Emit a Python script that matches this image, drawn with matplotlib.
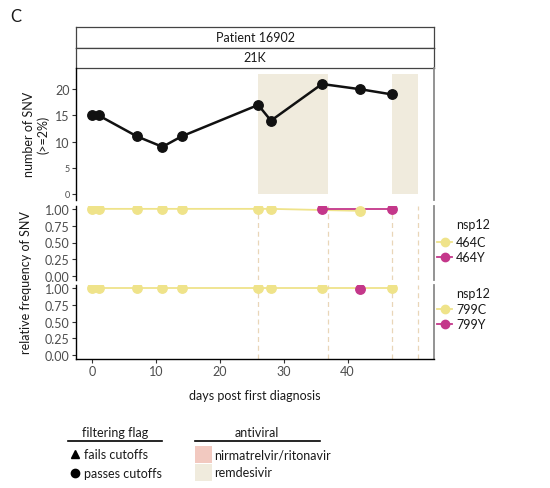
import matplotlib
matplotlib.use("Agg")
import matplotlib.pyplot as plt
from matplotlib.lines import Line2D
from matplotlib.patches import Rectangle

plt.rcParams['font.family'] = ['Lato', 'DejaVu Sans']

# ---------------- data ----------------
days = [0, 1, 7, 11, 14, 26, 28, 36, 42, 47]
n_snv = [15, 15, 11, 9, 11, 17, 14, 21, 20, 19]

days_464C = [0, 1, 7, 11, 14, 26, 28, 42]
freq_464C = [1.0, 1.0, 1.0, 1.0, 1.0, 1.0, 1.0, 0.97]
days_464Y = [36, 47]
freq_464Y = [1.0, 1.0]

days_799C = [0, 1, 7, 11, 14, 26, 28, 36, 47]
freq_799C = [1.0, 1.0, 1.0, 1.0, 1.0, 1.0, 1.0, 1.0, 1.0]
days_799Y = [42]
freq_799Y = [0.98]

remdesivir_start = [26, 47]
remdesivir_end = [37, 51]

x_ticks = [0, 10, 20, 30, 40]
top_yticks = [0, 5, 10, 15, 20]
freq_yticks = [0.0, 0.25, 0.5, 0.75, 1.0]

# ---------------- style ----------------
W, H = 550, 489
YELLOW = '#EFE38A'
MAGENTA = '#C4378A'
BEIGE = '#F0EBDD'
PINK = '#F2C9C0'
DASH = '#E9D6B8'
TXT = '#4D4D4D'
FS = 9

fig = plt.figure(figsize=(W / 100, H / 100), dpi=100)


def ax_px(x0, y0, x1, y1):
    return fig.add_axes([x0 / W, 1 - y1 / H, (x1 - x0) / W, (y1 - y0) / H])


def fx(x):
    return x / W


def fy(y):
    return 1 - y / H


XL, XR = 76, 434
xlim = (-2.55, 53.55)


def style(ax, bottom=False):
    ax.spines['top'].set_visible(False)
    ax.spines['bottom'].set_visible(bottom)
    ax.spines['left'].set_color('black')
    ax.spines['left'].set_linewidth(1.0)
    ax.spines['right'].set_color('#8A8A8A')
    ax.spines['right'].set_linewidth(1.3)
    ax.spines['bottom'].set_linewidth(1.0)
    ax.set_xlim(*xlim)
    ax.tick_params(axis='y', length=3, width=0.8, color='#333333',
                   labelsize=FS, labelcolor=TXT, pad=1.5)
    ax.tick_params(axis='x', length=3 if bottom else 0, width=0.8, color='#333333',
                   labelsize=FS, labelcolor=TXT, labelbottom=bottom, pad=2)
    ax.set_xticks(x_ticks)
    ax.patch.set_alpha(0)


# strips
for (y0, y1, label) in [(28, 48.5, 'Patient 16902'), (48.5, 68.5, '21K')]:
    s = ax_px(XL, y0, XR, y1)
    s.set_xticks([]); s.set_yticks([])
    for sp in s.spines.values():
        sp.set_color('#444444'); sp.set_linewidth(0.9)
    s.text(0.5, 0.5, label, ha='center', va='center', fontsize=FS, color='#1A1A1A',
           transform=s.transAxes)

# top panel
ax1 = ax_px(XL, 68.5, XR, 201)
style(ax1)
ax1.set_ylim(-1.15, 24.15)
for a, b in zip(remdesivir_start, remdesivir_end):
    ax1.fill_between([a, b], 0, 23, color=BEIGE, lw=0, zorder=0)
ax1.plot(days, n_snv, color='#111111', lw=1.8, zorder=2)
ax1.plot(days, n_snv, 'o', color='#111111', ms=6.8, zorder=3)
ax1.set_yticks(top_yticks)
ax1.set_yticklabels([str(v) for v in top_yticks])
for lab, v in zip(ax1.get_yticklabels(), top_yticks):
    if v < 10:
        lab.set_fontsize(6.5)
ax1.set_ylabel('number of SNV\n(>=2%)', fontsize=FS, color='#1A1A1A', labelpad=4,
               linespacing=1.25)

# frequency panels
panels = [
    (206.5, 280.5, days_464C, freq_464C, days_464Y, freq_464Y),
    (285.5, 359.5, days_799C, freq_799C, days_799Y, freq_799Y),
]
axes_freq = []
for i, (y0, y1, dc, fc, dy, fyv) in enumerate(panels):
    ax = ax_px(XL, y0, XR, y1)
    style(ax, bottom=(i == 1))
    ax.set_ylim(-0.05, 1.05)
    for xv in remdesivir_start + remdesivir_end:
        ax.axvline(xv, color=DASH, lw=0.9, ls=(0, (4, 3)), zorder=0)
    ax.plot(dc, fc, color=YELLOW, lw=1.3, zorder=2)
    ax.plot(dy, fyv, color=MAGENTA, lw=1.3, zorder=2)
    ax.plot(dc, fc, 'o', color=YELLOW, ms=6.8, zorder=3)
    ax.plot(dy, fyv, 'o', color=MAGENTA, ms=6.8, zorder=4)
    ax.set_yticks(freq_yticks)
    ax.set_yticklabels(['%.2f' % v for v in freq_yticks])
    axes_freq.append(ax)

axes_freq[1].set_xlabel('days post first diagnosis', fontsize=FS, color='#1A1A1A', labelpad=8)
fig.text(fx(26), fy(283), 'relative frequency of SNV', rotation=90, ha='center', va='center',
         fontsize=FS, color='#1A1A1A')

# panel letter
fig.text(fx(10), fy(17), 'C', fontsize=12, ha='left', va='center', color='#1A1A1A')

# right legends
def right_legend(y_title, y_first, labels):
    fig.text(fx(456), fy(y_title), 'nsp12', fontsize=FS, ha='left', va='center', color='#1A1A1A')
    for k, (lab, col) in enumerate(zip(labels, [YELLOW, MAGENTA])):
        yy = y_first + k * 15
        fig.add_artist(Line2D([fx(437), fx(452)], [fy(yy), fy(yy)], color=col, lw=1.3))
        fig.add_artist(Line2D([fx(444.5)], [fy(yy)], marker='o', color=col, ms=6, lw=0))
        fig.text(fx(456), fy(yy), lab, fontsize=FS, ha='left', va='center', color='#1A1A1A')

right_legend(225, 243, ['464C', '464Y'])
right_legend(294, 310, ['799C', '799Y'])

# bottom legends
fig.text(fx(115), fy(433), 'filtering flag', fontsize=FS, ha='center', va='center', color='#1A1A1A')
fig.add_artist(Line2D([fx(68), fx(162)], [fy(442), fy(442)], color='black', lw=1.2))
fig.add_artist(Line2D([fx(75)], [fy(455)], marker='^', color='black', ms=6, lw=0))
fig.text(fx(84), fy(455), 'fails cutoffs', fontsize=FS, ha='left', va='center', color='#1A1A1A')
fig.add_artist(Line2D([fx(75)], [fy(474)], marker='o', color='black', ms=6, lw=0))
fig.text(fx(84), fy(474), 'passes cutoffs', fontsize=FS, ha='left', va='center', color='#1A1A1A')

fig.text(fx(257), fy(433), 'antiviral', fontsize=FS, ha='center', va='center', color='#1A1A1A')
fig.add_artist(Line2D([fx(195), fx(320)], [fy(442), fy(442)], color='black', lw=1.2))
for k, (lab, col) in enumerate([('nirmatrelvir/ritonavir', PINK), ('remdesivir', BEIGE)]):
    y0 = 447 + k * 18
    fig.add_artist(Rectangle((fx(195), fy(y0 + 17)), 17 / W, 17 / H, color=col, lw=0,
                             transform=fig.transFigure))
    fig.text(fx(214), fy(y0 + 8.5), lab, fontsize=FS, ha='left', va='center', color='#1A1A1A')

fig.savefig('out.png', dpi=100, facecolor='white')
